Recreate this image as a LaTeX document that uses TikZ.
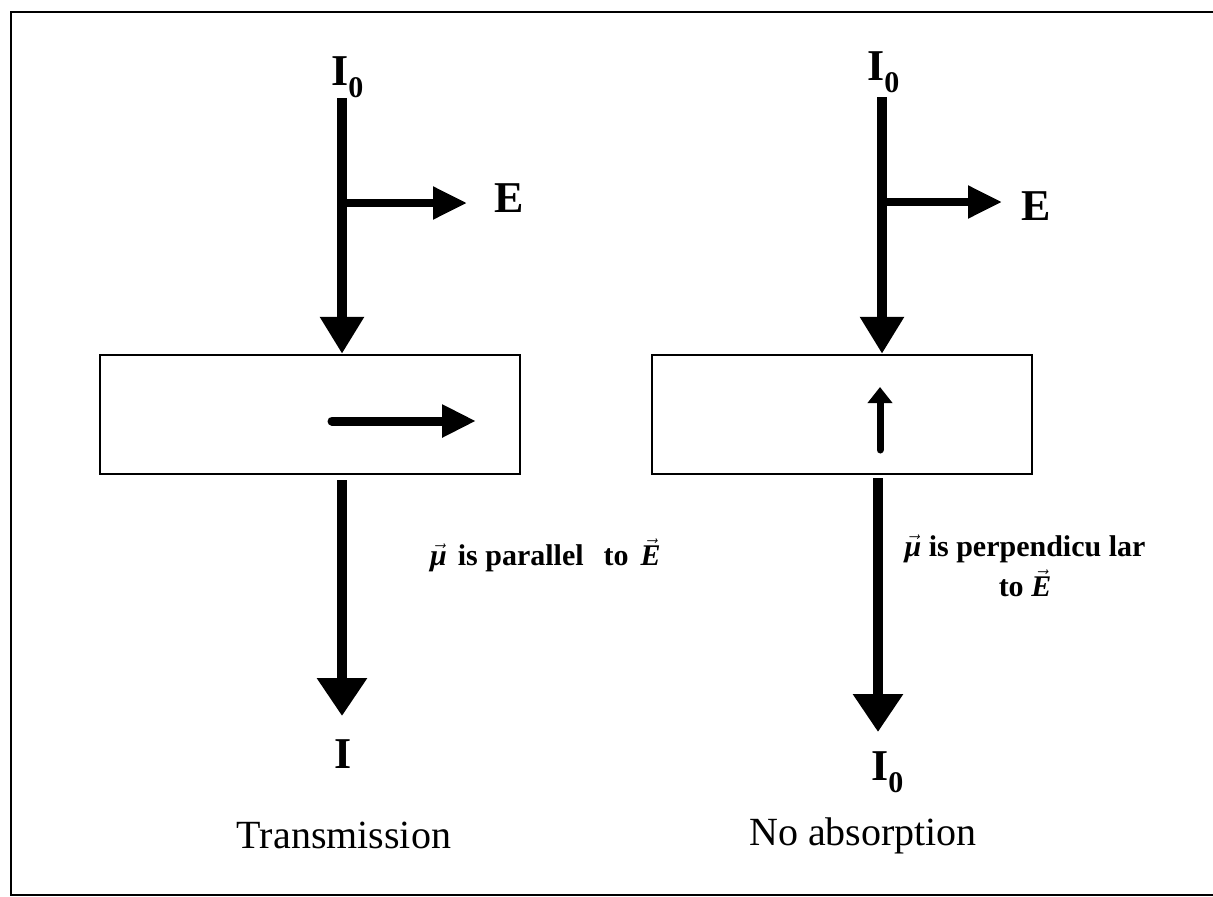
\documentclass[tikz,border=0pt]{standalone}
\usepackage{fontspec}
\setmainfont{Liberation Serif}
\usetikzlibrary{arrows.meta}
\newcommand{\vbx}[1]{\ensuremath{\vec{\hbox{\bfseries\itshape #1}}}}
\tikzset{
  frameline/.style={line width=2.5pt},
  boxnode/.style={draw, line width=2.5pt, minimum height=119pt, inner sep=0pt},
  bigarrow/.style={line width=10pt, -{Triangle[length=37pt,width=42pt]}},
  earrow/.style={line width=8pt, -{Triangle[length=34pt,width=31pt]}},
  inarrow/.style={line width=9pt, line cap=round, -{Triangle[length=34pt,width=31pt]}},
  uparrow/.style={line width=7pt, line cap=round, -{Triangle[length=16pt,width=24pt]}},
  lowarrow/.style={line width=10pt, -{Triangle[length=38pt,width=48pt]}},
  biglabel/.style={font=\fontsize{44}{44}\selectfont\bfseries, inner sep=0pt, anchor=base west},
  caption/.style={font=\fontsize{40}{40}\selectfont, inner sep=0pt, anchor=base},
  note/.style={font=\fontsize{30}{40}\selectfont\bfseries, inner sep=0pt},
}
\newcommand{\Izero}{I\raisebox{-12pt}{\fontsize{30}{30}\selectfont 0}}
\begin{document}
\begin{tikzpicture}[x=1pt,y=-1pt]
\useasboundingbox (0,0) rectangle (1213,897);
% frame
\coordinate (fTL) at (11,12);
\coordinate (fTR) at (1213,12);
\coordinate (fBL) at (11,895);
\coordinate (fBR) at (1213,895);
\draw[frameline] (fTR) -- (fTL) -- (fBL) -- (fBR);

% boxes
\node[boxnode, minimum width=420pt] (b1) at (310,414.5) {};
\node[boxnode, minimum width=380pt] (b2) at (842,414.5) {};

% ---------- left column ----------
\node[biglabel] (i0a) at (331,85) {\Izero};
\coordinate (s1) at (342,98);
\draw[bigarrow] (s1) -- (s1 |- b1.north);
\coordinate (e1) at (342,203);
\coordinate (e1t) at (467,203);
\draw[earrow] (e1) -- (e1t);
\node[biglabel] (ea) at (494,212) {E};
\coordinate (m1) at (332,421);
\coordinate (m1t) at (476,421);
\draw[inarrow] (m1) -- (m1t);
\coordinate (l1) at (342,480);
\coordinate (l1t) at (342,716);
\draw[lowarrow] (l1) -- (l1t);
\node[biglabel] (ia) at (334,768) {I};
\node[note, anchor=base west] (na) at (430,565)
  {\vbx{μ}\hspace{11pt}is parallel\hspace{20pt}to\hspace{12pt}\vbx{E}};
\node[caption] (ta) at (344,848) {Transmission};

% ---------- right column ----------
\node[biglabel] (i0b) at (867,80) {\Izero};
\coordinate (s2) at (882,97);
\draw[bigarrow] (s2) -- (s2 |- b2.north);
\coordinate (e2) at (882,202);
\coordinate (e2t) at (1002,202);
\draw[earrow] (e2) -- (e2t);
\node[biglabel] (eb) at (1021,220) {E};
\coordinate (u2) at (880,450);
\coordinate (u2t) at (880,387);
\draw[uparrow] (u2) -- (u2t);
\coordinate (l2) at (878,478);
\coordinate (l2t) at (878,732);
\draw[lowarrow] (l2) -- (l2t);
\node[biglabel] (ib) at (871,780) {\Izero};
\node[note, align=center, anchor=base] (nb) at (1025,596)
  {\vbx{μ} is perpendicu lar\\to \vbx{E}};
\node[caption] (tb) at (863,845) {No absorption};
\end{tikzpicture}
\end{document}
